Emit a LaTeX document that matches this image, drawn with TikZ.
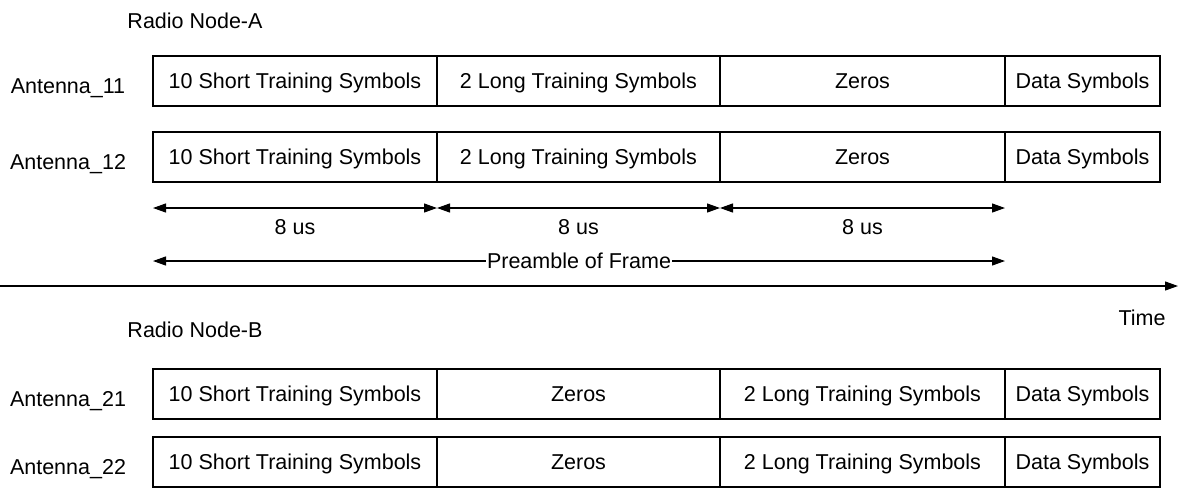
\documentclass[tikz,border=0pt]{standalone}
\usepackage{fontspec}
\setmainfont{Liberation Sans}
\usetikzlibrary{arrows.meta,positioning}
\tikzset{
  cell/.style={draw, line width=1.2pt, minimum height=50pt, inner sep=0pt, outer sep=0pt,
    text height=15pt, text depth=0pt},
  lbl/.style={inner sep=0pt},
  span/.style={line width=1.2pt, {Triangle[length=13pt,width=9pt]}-{Triangle[length=13pt,width=9pt]}},
}
\begin{document}
\begin{tikzpicture}[x=1pt,y=-1pt,font=\fontsize{21.5}{24}\selectfont]
\useasboundingbox (0,0) rectangle (1178,488);
\node[lbl] (nodeA) at (195,21) {Radio Node-A};
\node[lbl] (nodeB) at (195,330) {Radio Node-B};
% node A antennas
\foreach \ant/\yy/\name in {a1/81/Antenna\_11, a2/157/Antenna\_12} {
  \node[lbl] (\ant-lab) at (68,\yy+7) {\name};
  \node[cell, minimum width=284pt, anchor=west] (\ant-s) at (153,\yy) {10 Short Training Symbols};
  \node[cell, minimum width=283pt, right=0pt of \ant-s] (\ant-l) {2 Long Training Symbols};
  \node[cell, minimum width=285pt, right=0pt of \ant-l] (\ant-z) {Zeros};
  \node[cell, minimum width=155pt, right=0pt of \ant-z] (\ant-d) {Data Symbols};
}
% node B antennas
\foreach \ant/\yy/\name in {b1/394/Antenna\_21, b2/462/Antenna\_22} {
  \node[lbl] (\ant-lab) at (68,\yy+7) {\name};
  \node[cell, minimum width=284pt, anchor=west] (\ant-s) at (153,\yy) {10 Short Training Symbols};
  \node[cell, minimum width=283pt, right=0pt of \ant-s] (\ant-z) {Zeros};
  \node[cell, minimum width=285pt, right=0pt of \ant-z] (\ant-l) {2 Long Training Symbols};
  \node[cell, minimum width=155pt, right=0pt of \ant-l] (\ant-d) {Data Symbols};
}
% durations
\coordinate (m0) at (153,208);
\coordinate (m1) at (437,208);
\coordinate (m2) at (720,208);
\coordinate (m3) at (1005,208);
\draw[span] (m0) -- node[below=11pt, lbl] {8 us} (m1);
\draw[span] (m1) -- node[below=11pt, lbl] {8 us} (m2);
\draw[span] (m2) -- node[below=11pt, lbl] {8 us} (m3);
\coordinate (p0) at (153,261);
\coordinate (p1) at (1005,261);
\draw[span] (p0) -- node[fill=white, inner xsep=1pt, inner ysep=2pt] {Preamble of Frame} (p1);
% time axis
\coordinate (t0) at (0,286);
\coordinate (t1) at (1178,286);
\draw[line width=1.2pt, -{Triangle[length=13pt,width=9pt]}] (t0) -- (t1);
\node[lbl] (time) at (1142,318) {Time};
\end{tikzpicture}
\end{document}
